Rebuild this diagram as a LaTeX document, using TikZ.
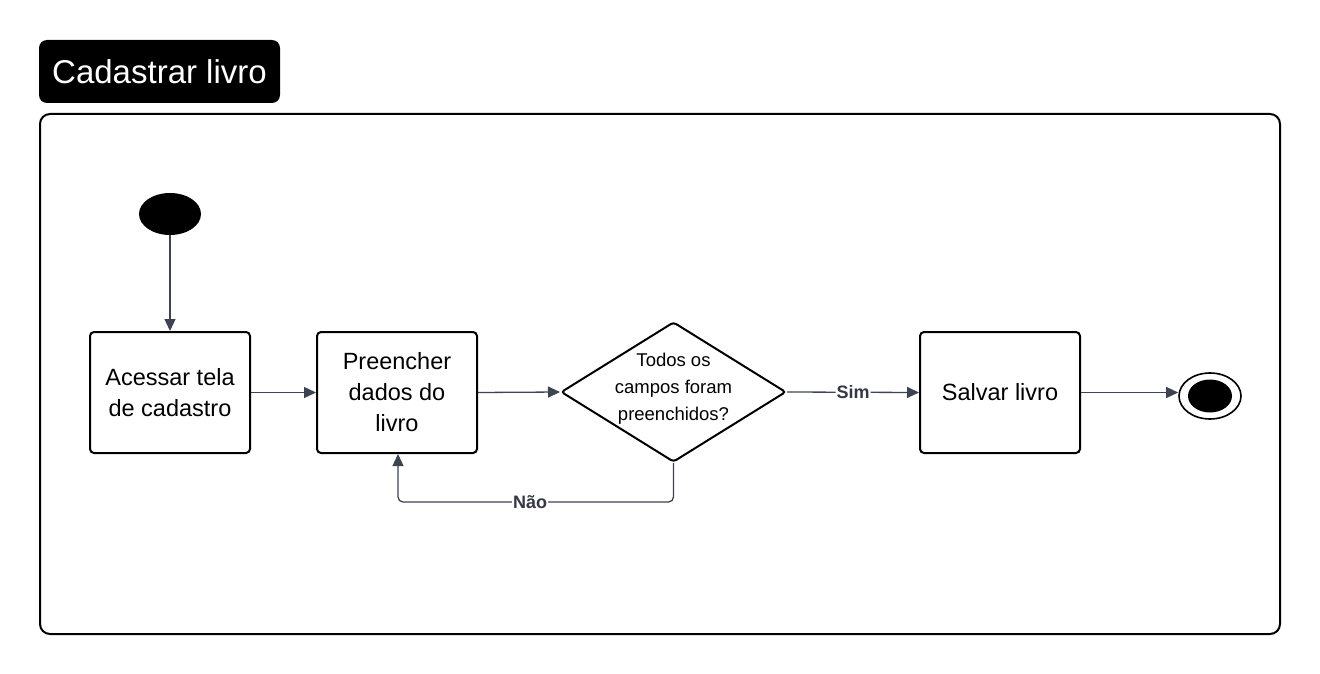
\documentclass[tikz,border=0pt]{standalone}
\usepackage{fontspec}
\setmainfont{Liberation Sans}
\usetikzlibrary{shapes.geometric,arrows.meta}
\definecolor{edgec}{HTML}{3D4350}
\definecolor{lblc}{HTML}{333842}
\tikzset{
  actbox/.style={draw=black, line width=2pt, rounded corners=4pt, minimum width=160pt, minimum height=121pt, align=center, font=\fontsize{23.5}{31}\selectfont, inner sep=0pt},
  flow/.style={draw=edgec, line width=1.3pt, -{Triangle[length=12pt,width=11pt]}, rounded corners=5pt},
  lbl/.style={fill=white, inner sep=1pt, font=\bfseries\fontsize{18}{20}\selectfont, text=lblc}
}
\begin{document}
\begin{tikzpicture}[x=1pt,y=-1pt]
\useasboundingbox (0,0) rectangle (1320,674);
% title
\node[fill=black, rounded corners=8pt, minimum width=241pt, minimum height=63pt, inner sep=0pt, text=white, font=\fontsize{33}{38}\selectfont] (title) at (159.5,71.5) {Cadastrar livro};
% container
\node[draw=black, line width=2pt, rounded corners=10pt, minimum width=1240pt, minimum height=520pt, inner sep=0pt] (frame) at (660,374) {};
% start
\node[fill=black, ellipse, minimum width=62pt, minimum height=42pt, inner sep=0pt] (start) at (170,214) {};
% boxes
\node[actbox] (b1) at (170,392.5) {Acessar tela\\de cadastro};
\node[actbox] (b2) at (397,392.5) {Preencher\\dados do\\livro};
\node[draw=black, line width=2pt, diamond, rounded corners=3pt, minimum width=225pt, minimum height=140pt, inner sep=0pt] (dec) at (673.5,392) {};
\node[align=center, font=\fontsize{18.5}{27}\selectfont, inner sep=0pt] (dect) at (673.5,389) {Todos os\\campos foram\\preenchidos?};
\node[actbox] (b3) at (1000,392.5) {Salvar livro};
% end
\node[draw=black, line width=1.6pt, ellipse, minimum width=62pt, minimum height=46pt, inner sep=0pt] (end) at (1210,396) {};
\node[fill=black, ellipse, minimum width=44pt, minimum height=33pt, inner sep=0pt] (endin) at (1210,396) {};
% connectors
\draw[flow] (start.south) -- (b1.north);
\draw[flow] (b1.east) -- (b2.west);
\draw[flow] (b2.east) -- (dec.west);
\draw[flow] (dec.east) -- node[lbl] {Sim} (b3.west);
\draw[flow] (b3.east) -- (end.west |- b3.east);
\coordinate (loopR) at (673.5,502);
\coordinate (loopL) at (398,502);
\draw[flow] (dec.south) -- (loopR) -- node[lbl, pos=0.52] {Não} (loopL) -- (b2.south -| loopL);
\end{tikzpicture}
\end{document}
